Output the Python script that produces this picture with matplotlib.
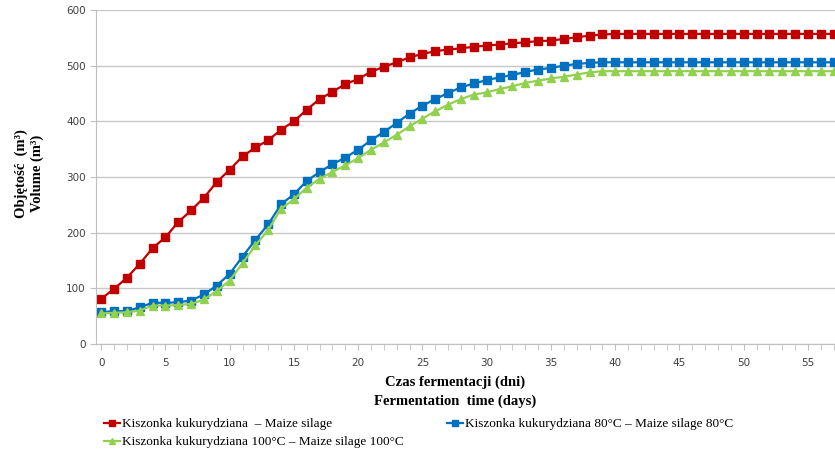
import matplotlib.pyplot as plt
from matplotlib.ticker import MultipleLocator

days = list(range(0, 58))

# Kiszonka kukurydziana - Maize silage
maize = [81, 99, 119, 144, 172, 192, 219, 240, 263, 291,
         313, 337, 353, 366, 385, 400, 421, 440, 453, 467,
         476, 489, 498, 506, 515, 521, 526, 529, 531, 534,
         536, 538, 540, 542, 544, 545, 548, 551, 554, 556,
         557] + [557] * 17

# Kiszonka kukurydziana 80°C
maize_80 = [57, 59, 59, 66, 74, 74, 75, 78, 89, 105,
            126, 157, 187, 215, 251, 269, 293, 309, 323, 335,
            349, 366, 381, 397, 414, 428, 440, 451, 461, 468,
            474, 479, 483, 489, 493, 496, 500, 503, 505, 506,
            506] + [506] * 17

# Kiszonka kukurydziana 100°C
maize_100 = [55, 56, 57, 60, 69, 69, 70, 72, 80, 95,
             114, 145, 177, 205, 243, 260, 281, 297, 309, 321,
             334, 349, 362, 376, 391, 405, 418, 430, 440, 448,
             452, 458, 463, 469, 473, 477, 480, 484, 488, 490,
             490] + [490] * 17

labels = ["Kiszonka kukurydziana  \u2013 Maize silage",
          "Kiszonka kukurydziana 80\u00b0C \u2013 Maize silage 80\u00b0C",
          "Kiszonka kukurydziana 100\u00b0C \u2013 Maize silage 100\u00b0C"]

serif = ['Liberation Serif', 'DejaVu Serif']

fig = plt.figure(figsize=(8.35, 4.5), dpi=100)
ax = fig.add_axes([0.115, 0.2356, 0.885, 0.7422])

l1, = ax.plot(days, maize, color='#C00000', marker='s', markersize=5.5, lw=1.6, label=labels[0])
l2, = ax.plot(days, maize_80, color='#0070C0', marker='s', markersize=5.5, lw=1.6, label=labels[1])
l3, = ax.plot(days, maize_100, color='#92D050', marker='^', markersize=6, lw=1.6, label=labels[2])

ax.set_xlim(-0.4, 57.1)
ax.set_ylim(0, 600)
ax.xaxis.set_major_locator(MultipleLocator(5))
ax.xaxis.set_minor_locator(MultipleLocator(1))
ax.yaxis.set_major_locator(MultipleLocator(100))
ax.grid(axis='y', color='#c8c8c8', lw=1)
ax.set_axisbelow(True)

for s in ['top', 'right']:
    ax.spines[s].set_visible(False)
for s in ['left', 'bottom']:
    ax.spines[s].set_color('#bfbfbf')

ax.tick_params(axis='both', which='both', colors='#bfbfbf', labelcolor='#404040',
               labelsize=7.5, length=4, direction='out')
ax.tick_params(axis='x', pad=6)

fig.text(0.035, 0.615, "Objętość  (m\u00b3)\nVolume (m\u00b3)", rotation=90,
         ha='center', va='center', family=serif, fontweight='bold', fontsize=10.5,
         linespacing=1.2)
fig.text(0.545, 0.13, "Czas fermentacji (dni)\nFermentation  time (days)",
         ha='center', va='center', family=serif, fontweight='bold', fontsize=10.5,
         linespacing=1.5)

fig.legend([l1, l3, l2], [labels[0], labels[2], labels[1]], ncol=2,
           loc='upper left', bbox_to_anchor=(0.125, 0.071), frameon=False,
           prop={'family': serif, 'size': 9.5}, handlelength=1.2,
           handletextpad=0.15, columnspacing=3.3, labelspacing=0.45,
           borderaxespad=0, borderpad=0, markerscale=0.8)

fig.savefig('out.png', dpi=100)
